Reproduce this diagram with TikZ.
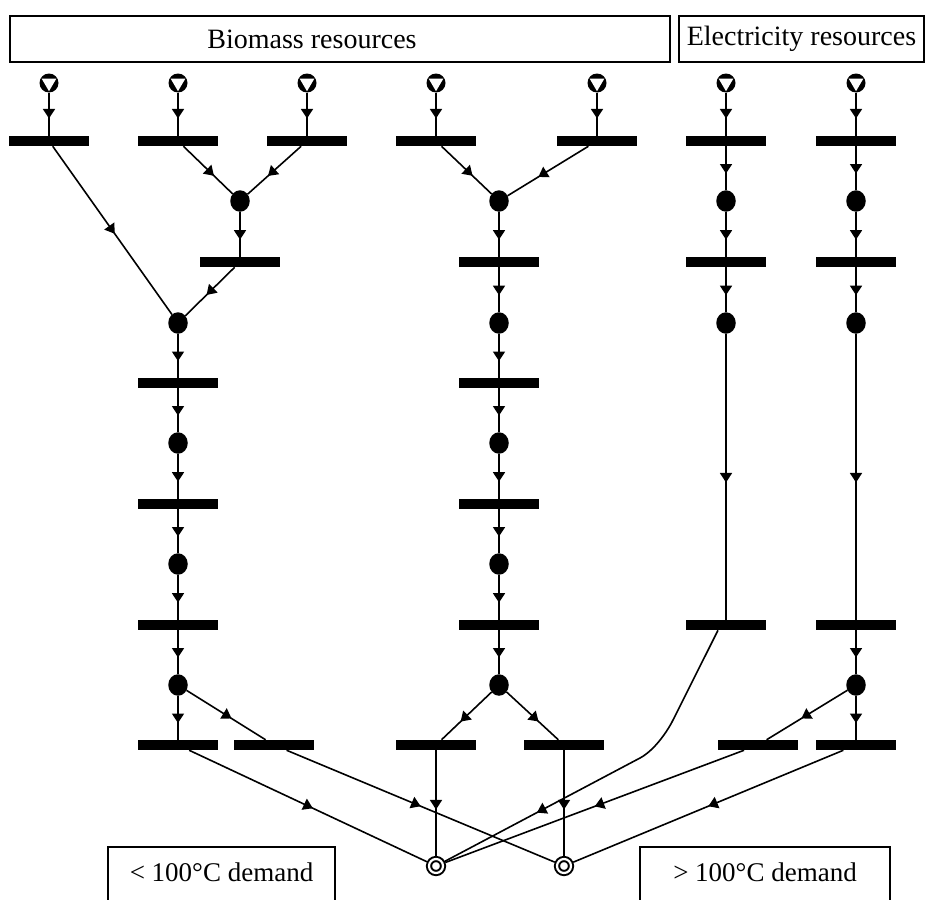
\documentclass[tikz,border=0pt]{standalone}
\usepackage{fontspec}
\setmainfont{Liberation Serif}
\usetikzlibrary{arrows.meta,decorations.markings,shapes.geometric}

\tikzset{
  % flow line with a triangular marker part way along
  link/.style={line width=1.6pt, postaction={decorate},
    decoration={markings, mark=at position #1 with {\arrow{Triangle[width=12pt,length=9.5pt]}}}},
  link/.default=0.62,
  bar/.style={rectangle, fill=black, minimum width=80pt, minimum height=10.5pt, inner sep=0pt, outer sep=0pt},
  dot/.style={ellipse, fill=black, minimum width=19.5pt, minimum height=21.5pt, inner sep=0pt, outer sep=0pt},
  src/.style={circle, fill=black, minimum size=19pt, inner sep=0pt, outer sep=0pt,
    path picture={\fill[white]
      ([shift={(-7.3pt,4.3pt)}]path picture bounding box.center) --
      ([shift={(7.3pt,4.3pt)}]path picture bounding box.center) --
      ([shift={(0pt,-8.2pt)}]path picture bounding box.center) -- cycle;}},
  sink/.style={circle, draw, line width=2pt, double, double distance=2.2pt,
    minimum size=14pt, inner sep=0pt, outer sep=3pt},
  labelfont/.style={font=\fontsize{28}{33}\selectfont},
  topbox/.style={rectangle, draw, line width=1.5pt, inner sep=0pt, minimum height=46pt},
  demandbox/.style={rectangle, draw, line width=1.5pt, inner xsep=0pt, inner ysep=0pt,
    font=\fontsize{27}{32}\selectfont, text height=35pt, text depth=35pt, anchor=north}
}

\begin{document}
\begin{tikzpicture}[x=1pt, y=-1pt]
\useasboundingbox (0,0) rectangle (928,899);
\clip (0,0) rectangle (928,899);

% resource headers
\node[topbox, minimum width=660pt] (biomass) at (340,39) {};
\node[labelfont] (biomasstext) at (312,39) {Biomass resources};
\node[topbox, labelfont, minimum width=245pt] (elec) at (801.5,39) {Electricity resources};

% demand boxes
\node[demandbox, minimum width=227pt] (low) at (221.5,846) {< 100\textdegree C demand};
\node[demandbox, minimum width=250pt] (high) at (765,846) {> 100\textdegree C demand};

% resource sources
\foreach \n/\x in {s1/49, s2/178, s3/307, s4/436, s5/597, s6/726, s7/856}
  \node[src] (\n) at (\x,83) {};

% first row of bars
\foreach \n/\x in {b1a/49, b1b/178, b1c/307, b1d/436, b1e/597, b1f/726, b1g/856}
  \node[bar] (\n) at (\x,141) {};

% intermediate places and transitions
\node[dot] (d2a) at (240,201) {};
\node[dot] (d2b) at (499,201) {};
\node[dot] (d2c) at (726,201) {};
\node[dot] (d2d) at (856,201) {};

\node[bar] (b3a) at (240,262) {};
\node[bar] (b3b) at (499,262) {};
\node[bar] (b3c) at (726,262) {};
\node[bar] (b3d) at (856,262) {};

\node[dot] (d4a) at (178,323) {};
\node[dot] (d4b) at (499,323) {};
\node[dot] (d4c) at (726,323) {};
\node[dot] (d4d) at (856,323) {};

\node[bar] (b5a) at (178,383) {};
\node[bar] (b5b) at (499,383) {};
\node[dot] (d6a) at (178,443) {};
\node[dot] (d6b) at (499,443) {};
\node[bar] (b7a) at (178,504) {};
\node[bar] (b7b) at (499,504) {};
\node[dot] (d8a) at (178,564) {};
\node[dot] (d8b) at (499,564) {};

\node[bar] (b9a) at (178,625) {};
\node[bar] (b9b) at (499,625) {};
\node[bar] (b9c) at (726,625) {};
\node[bar] (b9d) at (856,625) {};

\node[dot] (d10a) at (178,685) {};
\node[dot] (d10b) at (499,685) {};
\node[dot] (d10d) at (856,685) {};

\node[bar] (b11a) at (178,745) {};
\node[bar] (b11b) at (274,745) {};
\node[bar] (b11c) at (436,745) {};
\node[bar] (b11d) at (564,745) {};
\node[bar] (b11e) at (758,745) {};
\node[bar] (b11f) at (856,745) {};

% demand sinks
\node[sink] (k1) at (436,866) {};
\node[sink] (k2) at (564,866) {};

% sources into first bars
\foreach \s/\b in {s1/b1a, s2/b1b, s3/b1c, s4/b1d, s5/b1e, s6/b1f, s7/b1g}
  \draw[link=0.6] (\s) -- (\b);

% left biomass chain
\draw[link=0.52] (b1a) -- (d4a);
\draw[link] (b1b) -- (d2a);
\draw[link] (b1c) -- (d2a);
\draw[link] (d2a) -- (b3a);
\draw[link=0.57] (b3a) -- (d4a);
\draw[link] (d4a) -- (b5a);
\draw[link] (b5a) -- (d6a);
\draw[link] (d6a) -- (b7a);
\draw[link] (b7a) -- (d8a);
\draw[link] (d8a) -- (b9a);
\draw[link] (b9a) -- (d10a);
\draw[link] (d10a) -- (b11a);
\draw[link=0.57] (d10a) -- (b11b);
\draw[link=0.52] (b11a) -- (k1);
\draw[link=0.5] (b11b) -- (k2);

% middle biomass chain
\draw[link] (b1d) -- (d2b);
\draw[link] (b1e) -- (d2b);
\draw[link] (d2b) -- (b3b);
\draw[link] (b3b) -- (d4b);
\draw[link] (d4b) -- (b5b);
\draw[link] (b5b) -- (d6b);
\draw[link] (d6b) -- (b7b);
\draw[link] (b7b) -- (d8b);
\draw[link] (d8b) -- (b9b);
\draw[link] (b9b) -- (d10b);
\draw[link] (d10b) -- (b11c);
\draw[link] (d10b) -- (b11d);
\draw[link=0.56] (b11c) -- (k1);
\draw[link=0.56] (b11d) -- (k2);

% first electricity chain
\draw[link] (b1f) -- (d2c);
\draw[link] (d2c) -- (b3c);
\draw[link] (b3c) -- (d4c);
\draw[link=0.52] (d4c) -- (b9c);
\draw[link=0.72] ([xshift=-8pt]b9c.south) -- (672,722)
  .. controls (665,735) and (653,751) .. (640,758) -- (k1);

% second electricity chain
\draw[link] (b1g) -- (d2d);
\draw[link] (d2d) -- (b3d);
\draw[link] (b3d) -- (d4d);
\draw[link=0.52] (d4d) -- (b9d);
\draw[link] (b9d) -- (d10d);
\draw[link] (d10d) -- (b11f);
\draw[link=0.57] (d10d) -- (b11e);
\draw[link=0.5] (b11e) -- (k1);
\draw[link=0.5] (b11f) -- (k2);
\end{tikzpicture}
\end{document}
